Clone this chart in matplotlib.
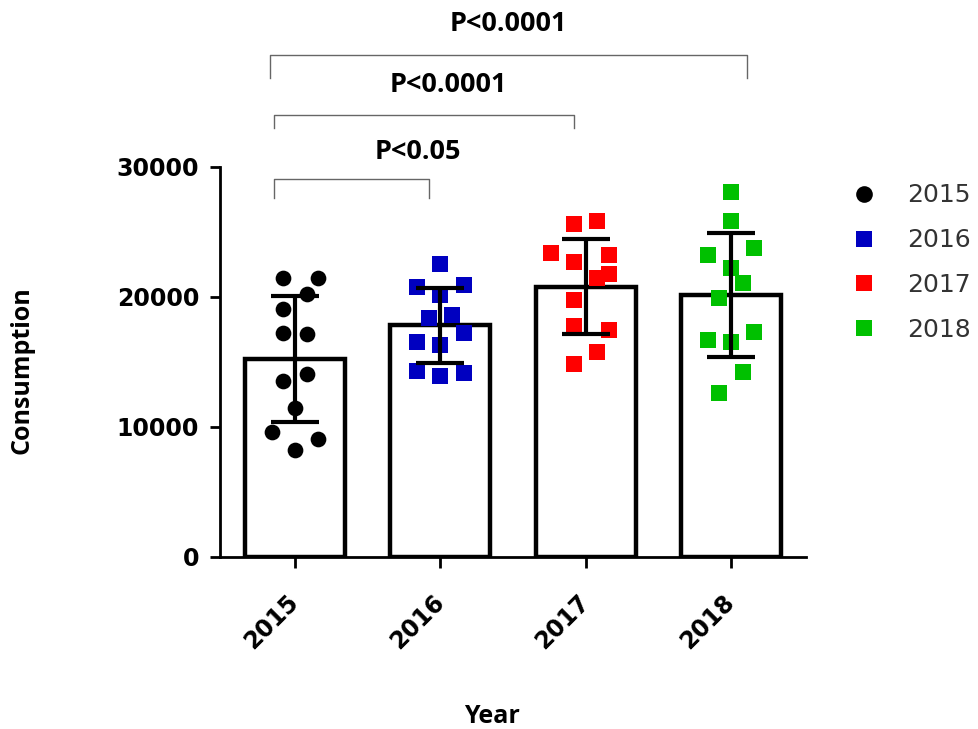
import numpy as np
import matplotlib
matplotlib.use("Agg")
import matplotlib.pyplot as plt
from matplotlib.lines import Line2D

# data
years = ["2015", "2016", "2017", "2018"]
vals_2015 = [21500, 21450, 20200, 19050, 17200, 17150, 13550, 14050, 11500, 9650, 9100, 8250]
vals_2016 = [22550, 20800, 20900, 20150, 18350, 18600, 17200, 16550, 16300, 14300, 13900, 14150]
vals_2017 = [25600, 25850, 23350, 22700, 23250, 21800, 21450, 19750, 17750, 17450, 15800, 14850]
vals_2018 = [28100, 25850, 23250, 23800, 22200, 21050, 19950, 16700, 16550, 17300, 14200, 12600]
# jitter column of each point (scatter layout)
col_2015 = [-1, 2, 1, -1, -1, 1, -1, 1, 0, -2, 2, 0]
col_2016 = [0, -2, 2, 0, -1, 1, 2, -2, 0, -2, 0, 2]
col_2017 = [-1, 1, -3, -1, 2, 2, 1, -1, -1, 2, 1, -1]
col_2018 = [0, 0, -2, 2, 0, 1, -1, -2, 0, 2, 1, -1]

comparisons = [(0, 1, "P<0.05"), (0, 2, "P<0.0001"), (0, 3, "P<0.0001")]

groups = [vals_2015, vals_2016, vals_2017, vals_2018]
cols = [col_2015, col_2016, col_2017, col_2018]
colors = ["#000000", "#0000c0", "#ff0000", "#00c000"]
markers = ["o", "s", "s", "s"]

fig = plt.figure(figsize=(9.79, 7.29), dpi=100)
ax = fig.add_axes([220/979, 1-557/729, 586/979, 390/729])

x = np.arange(len(years))
means = [np.mean(g) for g in groups]
sds = [np.std(g, ddof=1) for g in groups]

ax.bar(x, means, width=0.69, color="white", edgecolor="black", linewidth=3.2, zorder=1)
for i, g in enumerate(groups):
    xs = x[i] + np.array(cols[i]) * 0.08
    s = 128 if markers[i] == "o" else 140
    ax.scatter(xs, g, s=s, marker=markers[i], color=colors[i], linewidths=0, zorder=2)
ax.errorbar(x, means, yerr=sds, fmt="none", ecolor="black", elinewidth=3,
            capsize=17, capthick=3, zorder=3)

ax.set_xlim(-0.516, 3.516)
ax.set_ylim(0, 30000)
ax.set_yticks([0, 10000, 20000, 30000])
ax.set_xticks(x)
ax.set_xticklabels(years, rotation=45, ha="right", va="center", rotation_mode="anchor")
for sp in ["top", "right"]:
    ax.spines[sp].set_visible(False)
for sp in ["left", "bottom"]:
    ax.spines[sp].set_linewidth(2)
ax.tick_params(axis="both", width=2, labelsize=17, direction="out")
ax.tick_params(axis="y", length=7, pad=8)
ax.tick_params(axis="x", length=8, pad=22)
for lab in ax.get_xticklabels() + ax.get_yticklabels():
    lab.set_fontweight("bold")

ax.set_ylabel("Consumption", fontsize=18, fontweight="bold", family="Open Sans", va="center")
ax.yaxis.set_label_coords(-0.338, 0.48)
ax.set_xlabel("Year", fontsize=18, fontweight="bold", family="Open Sans", va="center")
ax.xaxis.set_label_coords(0.464, -0.41)

# significance brackets
levels = [29050, 34000, 38600]
drops = [1400, 1000, 1750]
left_off = [-0.144, -0.144, -0.172]
right_off = [-0.078, -0.08, 0.107]
text_x = [0.843, 1.053, 1.466]
text_y = [31150, 36300, 41000]
for k, (i, j, label) in enumerate(comparisons):
    x0 = x[i] + left_off[k]
    x1 = x[j] + right_off[k]
    y = levels[k]
    ax.plot([x0, x0, x1, x1], [y - drops[k], y, y, y - drops[k]], color="#666666",
            linewidth=1.0, clip_on=False, zorder=4)
    ax.text(text_x[k], text_y[k], label, ha="center", va="center", fontsize=19.5,
            fontweight="bold", family="Open Sans", clip_on=False)

handles = [Line2D([], [], marker=markers[i], color=colors[i], linestyle="none",
                  markersize=12, markeredgewidth=0) for i in range(len(years))]
leg = ax.legend(handles, years, loc="upper left", bbox_to_anchor=(852/979, 1-183.5/729),
                bbox_transform=fig.transFigure, frameon=False, fontsize=18,
                handlelength=1.0, handletextpad=1.2, labelspacing=0.83,
                borderpad=0, borderaxespad=0)
for t in leg.get_texts():
    t.set_color("#333333")

fig.savefig("out.png", dpi=100)
